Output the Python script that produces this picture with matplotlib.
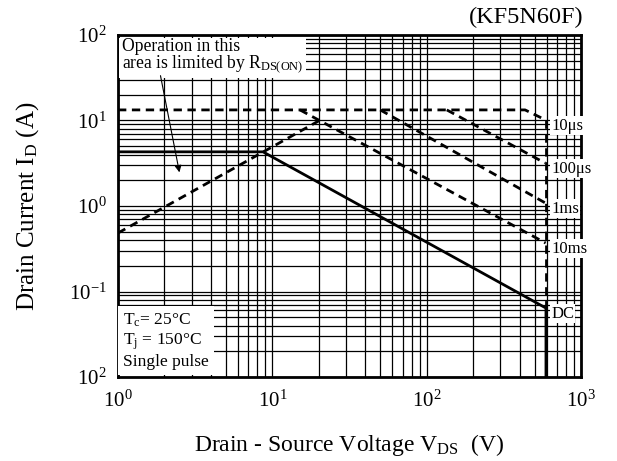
import matplotlib
matplotlib.use("Agg")
import matplotlib.pyplot as plt

plt.rcParams["font.family"] = ["Liberation Serif", "DejaVu Serif"]
plt.rcParams["mathtext.fontset"] = "custom"
plt.rcParams["mathtext.rm"] = "Liberation Serif"
plt.rcParams["mathtext.it"] = "Liberation Serif:italic"

# Safe operating area data
vds_10us = [1, 434, 593]
id_10us = [13.3, 13.3, 10.1]
vds_100us = [135, 585]
id_100us = [13.3, 3.18]
vds_1ms = [50, 590]
id_1ms = [13.3, 1.08]
vds_10ms = [15.1, 590]
id_10ms = [13.3, 0.369]
vds_rds = [1, 20.4]
id_rds = [0.483, 10.1]
vds_limit = [593, 593]
id_limit = [10.1, 0.064]
vds_dc = [1, 8.7, 593, 593]
id_dc = [4.3, 4.3, 0.064, 0.01]

labels = ["10\u03bcs", "100\u03bcs", "1ms", "10ms", "DC"]
label_id = [10.1, 3.18, 1.08, 0.369, 0.064]

x_ticks = [1, 10, 100, 1000]
x_ticklabels = [r"$10^{0}$", r"$10^{1}$", r"$10^{2}$", r"$10^{3}$"]
y_ticks = [0.01, 0.1, 1, 10, 100]
y_ticklabels = [r"$10^{2}$", r"$10^{-1}$", r"$10^{0}$", r"$10^{1}$", r"$10^{2}$"]

fig = plt.figure(figsize=(6.17, 4.61), dpi=100)
ax = fig.add_axes([118 / 617, 1 - 377 / 461, 463 / 617, 342 / 461])
ax.set_xscale("log")
ax.set_yscale("log")
ax.set_xlim(1, 1000)
ax.set_ylim(0.01, 100)

ax.grid(True, which="both", color="black", lw=0.9)
ax.set_axisbelow(True)
ax.tick_params(which="both", length=0, labelsize=15)
ax.tick_params(axis="x", pad=10)
ax.tick_params(axis="y", pad=8)
ax.set_xticks(x_ticks)
ax.set_xticklabels(x_ticklabels)
ax.set_yticks(y_ticks)
ax.set_yticklabels(y_ticklabels)
for s in ax.spines.values():
    s.set_linewidth(2)

dash = dict(color="black", lw=2, linestyle=(0, (3, 2)))
ax.plot(vds_10us, id_10us, **dash)
ax.plot(vds_100us, id_100us, **dash)
ax.plot(vds_1ms, id_1ms, **dash)
ax.plot(vds_10ms, id_10ms, **dash)
ax.plot(vds_rds, id_rds, **dash)
ax.plot(vds_limit, id_limit, **dash)
ax.plot(vds_dc, id_dc, color="black", lw=2)

for lab, y in zip(labels, label_id):
    ax.annotate(lab, xy=(640, y), xytext=(0, -4), textcoords="offset points",
                fontsize=12, va="center", ha="left",
                bbox=dict(facecolor="white", edgecolor="none", pad=1))

ax.text(1.06, 93, "Operation in this\narea is limited by R$_{\\mathregular{DS(ON)}}$",
        fontsize=12.7, va="top", ha="left", linespacing=0.9,
        bbox=dict(facecolor="white", edgecolor="none", pad=2))
ax.annotate("", xy=(2.52, 2.3), xytext=(1.87, 36),
            arrowprops=dict(arrowstyle="-|>", color="black", lw=0.8,
                            mutation_scale=10))

ax.text(1.08, 0.058, "T$_\\mathregular{c}$= 25\u00b0C\nT$_\\mathregular{j}$ = 150\u00b0C\nSingle pulse",
        fontsize=12.5, va="top", ha="left", linespacing=1.15,
        bbox=dict(facecolor="white", edgecolor="none", pad=4))

fig.text(583 / 617, 1 - 17 / 461, "(KF5N60F)", fontsize=17.5, ha="right", va="center")
ax.set_xlabel("Drain - Source Voltage V$_\\mathregular{DS}$  (V)", fontsize=17, labelpad=14)
ax.set_ylabel("Drain Current I$_\\mathregular{D}$ (A)", fontsize=18, labelpad=20)

fig.savefig("out.png", dpi=100)
